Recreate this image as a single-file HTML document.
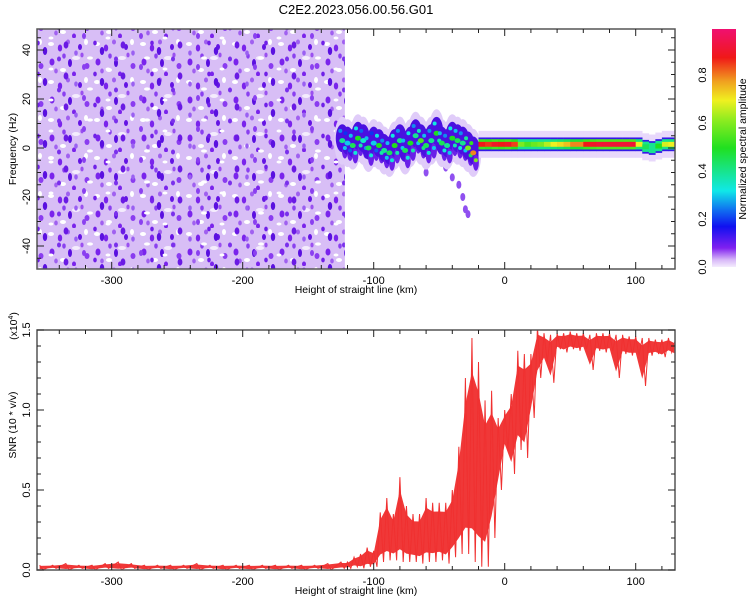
<!DOCTYPE html>
<html><head><meta charset="utf-8"><style>
body{margin:0;background:#fff;}
svg text{font-family:"Liberation Sans","DejaVu Sans",sans-serif;}
</style></head><body>
<svg id="chart" width="750" height="600" viewBox="0 0 750 600" xmlns="http://www.w3.org/2000/svg">
<defs>
<linearGradient id="cbar" x1="0" y1="1" x2="0" y2="0">
<stop offset="0" stop-color="#f4ecfd"/><stop offset="0.03" stop-color="#d8b8f8"/>
<stop offset="0.08" stop-color="#8020f0"/><stop offset="0.17" stop-color="#1010f0"/>
<stop offset="0.24" stop-color="#1070f0"/><stop offset="0.32" stop-color="#10e8e8"/>
<stop offset="0.5" stop-color="#20e020"/><stop offset="0.62" stop-color="#90ec20"/>
<stop offset="0.7" stop-color="#f0f020"/><stop offset="0.78" stop-color="#f0a020"/>
<stop offset="0.88" stop-color="#f01818"/><stop offset="1" stop-color="#f01070"/>
</linearGradient>
<pattern id="speckle" width="46" height="38" patternUnits="userSpaceOnUse">
<rect width="46" height="38" fill="#d8bef6"/>
<ellipse cx="5" cy="6" rx="3" ry="2" fill="#ffffff"/>
<ellipse cx="30" cy="20" rx="4" ry="2" fill="#f4ecfd"/>
<ellipse cx="17" cy="32" rx="3" ry="2" fill="#ffffff"/>
<ellipse cx="40" cy="4" rx="2" ry="3" fill="#ffffff"/>
<ellipse cx="14" cy="10" rx="2.2" ry="3.5" fill="#7a24ec"/>
<ellipse cx="34" cy="9" rx="2" ry="3" fill="#6414e4"/>
<ellipse cx="6" cy="24" rx="2.5" ry="3.5" fill="#7a24ec"/>
<ellipse cx="24" cy="25" rx="2" ry="4" fill="#5a10e0"/>
<ellipse cx="41" cy="28" rx="2.5" ry="3" fill="#8a3cf0"/>
<ellipse cx="28" cy="36" rx="2" ry="2.5" fill="#7a24ec"/>
<ellipse cx="22" cy="4" rx="2" ry="2.5" fill="#a060f0"/>
<ellipse cx="10" cy="33" rx="1.8" ry="2.5" fill="#a060f0"/>
<ellipse cx="36" cy="17" rx="1.6" ry="2.4" fill="#9a50f0"/>
<ellipse cx="18" cy="18" rx="1.8" ry="2.6" fill="#8a40f0"/>
</pattern>
<pattern id="speckle2" width="57" height="31" patternUnits="userSpaceOnUse">
<ellipse cx="9" cy="14" rx="2.4" ry="3.6" fill="#6a1ae4"/>
<ellipse cx="27" cy="5" rx="2" ry="3" fill="#8a40f0"/>
<ellipse cx="45" cy="20" rx="2.2" ry="4" fill="#5a10e0"/>
<ellipse cx="33" cy="27" rx="3" ry="1.6" fill="#ffffff"/>
<ellipse cx="51" cy="7" rx="2.5" ry="1.5" fill="#ffffff"/>
<ellipse cx="19" cy="22" rx="1.8" ry="2.6" fill="#9a60f2"/>
<ellipse cx="2" cy="28" rx="2" ry="2.5" fill="#7a30ec"/>
<ellipse cx="38" cy="12" rx="1.8" ry="2.4" fill="#7020e8"/>
</pattern>
<clipPath id="clipTop"><rect x="37" y="29" width="638" height="240"/></clipPath>
<clipPath id="clipBot"><rect x="37" y="330" width="638" height="240"/></clipPath>
</defs>
<text x="356" y="14" font-size="13" text-anchor="middle">C2E2.2023.056.00.56.G01</text>
<g id="topPanel"></g>
<g id="botPanel"></g>
<g id="cbPanel"></g>
</svg>
<script>
var xTicks=[-300,-200,-100,0,100];
var fTicks=[-40,-20,0,20,40];
var snrTicks=[0.0,0.5,1.0,1.5];
var cbTicks=[0.0,0.2,0.4,0.6,0.8];
var bandKm=[-20,-15,-10,-5,0,5,10,15,20,25,30,35,40,45,50,55,60,65,70,75,80,85,90,95,100,105,110,115,120,125];
var bandAmp=[0.88,0.86,0.9,0.88,0.9,0.85,0.6,0.55,0.58,0.6,0.65,0.7,0.72,0.75,0.8,0.8,0.88,0.9,0.92,0.92,0.92,0.92,0.92,0.92,0.7,0.45,0.4,0.5,0.68,0.7];
var bandFreq=[1.5,1.5,1.5,1.5,1.5,1.5,1.5,1.5,1.5,1.5,1.5,1.5,1.5,1.5,1.5,1.5,1.5,1.5,1.5,1.5,1.5,1.5,1.5,1.5,1.5,0.5,0,0.8,1.5,1.5];
var blobKm=[-124,-120,-116,-112,-108,-104,-100,-96,-92,-88,-84,-80,-76,-72,-68,-64,-60,-56,-52,-48,-44,-40,-36,-32,-28,-24];
var blobFreq=[3,2,1,4,3,0,2,1,-1,-2,1,3,-1,2,5,3,1,3,6,2,1,4,3,2,0,-2];
var blobAmp=[0.4,0.3,0.45,0.5,0.35,0.45,0.3,0.5,0.4,0.45,0.5,0.4,0.45,0.5,0.4,0.55,0.45,0.4,0.5,0.45,0.4,0.5,0.45,0.4,0.6,0.8];
var tailKm=[-60,-45,-40,-35,-32,-30,-28];
var tailFreq=[-10,-8,-12,-15,-20,-25,-27];
var snrKm=[-355,-345,-335,-325,-315,-305,-295,-285,-275,-265,-255,-245,-235,-225,-215,-205,-195,-185,-175,-165,-155,-145,-135,-125,-120,-115,-110,-105,-100,-95,-90,-85,-80,-75,-70,-65,-60,-55,-50,-45,-40,-35,-30,-25,-20,-15,-10,-5,0,5,10,15,20,25,30,35,40,45,50,55,60,65,70,75,80,85,90,95,100,105,110,115,120,125,130];
var snrHi=[0.03,0.03,0.04,0.03,0.03,0.04,0.05,0.04,0.03,0.03,0.03,0.03,0.04,0.03,0.03,0.03,0.03,0.03,0.03,0.03,0.03,0.03,0.04,0.05,0.05,0.08,0.1,0.14,0.12,0.36,0.45,0.35,0.58,0.4,0.35,0.35,0.45,0.42,0.42,0.42,0.5,0.77,1.2,1.45,1.3,1.06,1.12,0.95,1.0,1.1,1.37,1.35,1.35,1.52,1.48,1.47,1.48,1.48,1.49,1.48,1.48,1.47,1.48,1.48,1.48,1.47,1.47,1.46,1.46,1.45,1.45,1.44,1.44,1.45,1.43];
var snrLo=[0.0,0.01,0.0,0.01,0.0,0.01,0.0,0.01,0.0,0.01,0.0,0.01,0.0,0.01,0.0,0.01,0.0,0.01,0.0,0.01,0.0,0.01,0.0,0.01,0.01,0.02,0.01,0.02,0.02,0.05,0.06,0.06,0.05,0.05,0.05,0.04,0.05,0.05,0.06,0.04,0.08,0.1,0.1,0.05,0.02,0.02,0.2,0.5,0.75,0.6,0.75,0.7,0.95,1.2,1.3,1.17,1.38,1.36,1.38,1.37,1.38,1.25,1.37,1.36,1.37,1.2,1.35,1.34,1.34,1.15,1.34,1.35,1.33,1.36,1.34];

function xs(km){return 504.7+1.31*km;}
function ysTop(f){return 148-2.45*f;}
function ysBot(v){return 570-160*v;}
function ysCb(a){return 267-240*a;}
var NS="http://www.w3.org/2000/svg";
function mk(tag,attrs,parent){var e=document.createElementNS(NS,tag);for(var k in attrs)e.setAttribute(k,attrs[k]);parent.appendChild(e);return e;}
function ampColor(a){
 var stops=[[0,[244,236,253]],[0.03,[216,184,248]],[0.08,[128,32,240]],[0.17,[16,16,240]],[0.24,[16,112,240]],[0.32,[16,232,232]],[0.5,[32,224,32]],[0.62,[144,236,32]],[0.7,[240,240,32]],[0.78,[240,160,32]],[0.88,[240,24,24]],[1,[240,16,112]]];
 for(var i=1;i<stops.length;i++){if(a<=stops[i][0]){var t=(a-stops[i-1][0])/(stops[i][0]-stops[i-1][0]);var c=stops[i-1][1].map(function(v,j){return Math.round(v+(stops[i][1][j]-v)*t);});return "rgb("+c.join(",")+")";}}
 return "rgb(240,16,112)";
}
var gTop=document.getElementById('topPanel'),gBot=document.getElementById('botPanel'),gCb=document.getElementById('cbPanel');

var tg=mk('g',{'clip-path':'url(#clipTop)'},gTop);
var sp=mk('rect',{x:37,y:29,width:xs(-122)-37,height:240,fill:'url(#speckle)'},tg);


var sp2=mk('rect',{x:37,y:29,width:xs(-122)-37,height:240,fill:'url(#speckle2)'},tg);


for(var i=0;i<tailKm.length;i++){
 var t=mk('ellipse',{cx:xs(tailKm[i]),cy:ysTop(tailFreq[i]),rx:2.5,ry:4,fill:'#9050f0'},tg);
 
 
}
for(var i=0;i<blobKm.length;i++){
 var h=mk('ellipse',{cx:xs(blobKm[i]),cy:ysTop(blobFreq[i]),rx:8,ry:24,fill:'#e0ccf9'},tg);
 
 
}
for(var i=0;i<blobKm.length;i++){
 var c=mk('ellipse',{cx:xs(blobKm[i]),cy:ysTop(blobFreq[i]+1),rx:6.5,ry:14,fill:'#4a10e0'},tg);
 
 
 var c2=mk('ellipse',{cx:xs(blobKm[i]+2),cy:ysTop(blobFreq[i]-4),rx:3,ry:8,fill:'#6a20e8'},tg);
 
 
}
for(var i=0;i<blobKm.length;i++){
 var b=mk('ellipse',{cx:xs(blobKm[i]),cy:ysTop(blobFreq[i]),rx:3,ry:2.5,fill:ampColor(blobAmp[i])},tg);
 
 
 var b2=mk('ellipse',{cx:xs(blobKm[i]+2),cy:ysTop(blobFreq[i]-3),rx:2,ry:2,fill:ampColor(blobAmp[i]*0.75)},tg);
 
 
 var b3=mk('ellipse',{cx:xs(blobKm[i]-1.5),cy:ysTop(blobFreq[i]+4),rx:2,ry:2,fill:ampColor(blobAmp[i]*0.65)},tg);
 
 
}
var layers=[[5.5,function(a){return '#e8d8fb';}],[2.8,function(a){return '#3418e8';}],[2.1,function(a){return ampColor(Math.max(0.4,a*0.6));}],[1.0,function(a){return ampColor(a);}]];
layers.forEach(function(L){
 for(var i=0;i<bandKm.length;i++){
  var x0=xs(bandKm[i]),x1=xs(bandKm[i]+5.2);
  var r=mk('rect',{x:x0,y:ysTop(bandFreq[i]+L[0]),width:x1-x0,height:2*L[0]*2.45,fill:L[1](bandAmp[i])},tg);
  
  
 }
});
function axes(g,y0,y1,yticks,yscale,minorStep,ymin,ymax,labelFmt){
 mk('rect',{x:37,y:y0,width:638,height:y1-y0,fill:'none',stroke:'#555','stroke-width':1.5},g);
 for(var k=-340;k<=120;k+=20){var major=(k%100===0);var L=major?7:4;
  mk('line',{x1:xs(k),x2:xs(k),y1:y1,y2:y1-L,stroke:'#222'},g);
  mk('line',{x1:xs(k),x2:xs(k),y1:y0,y2:y0+L,stroke:'#222'},g);}
 xTicks.forEach(function(k){var t=mk('text',{x:xs(k),y:y1+15,'font-size':11,'text-anchor':'middle'},g);t.textContent=k;
  
  });
 for(var v=ymin;v<=ymax+1e-9;v+=minorStep){var yy=yscale(v);if(yy<y0||yy>y1)continue;
  mk('line',{x1:37,x2:41,y1:yy,y2:yy,stroke:'#222'},g);mk('line',{x1:675,x2:671,y1:yy,y2:yy,stroke:'#222'},g);}
 yticks.forEach(function(v){var yy=yscale(v);
  mk('line',{x1:37,x2:44,y1:yy,y2:yy,stroke:'#222'},g);mk('line',{x1:675,x2:668,y1:yy,y2:yy,stroke:'#222'},g);
  var t=mk('text',{x:30,y:yy,'font-size':11,'text-anchor':'middle',transform:'rotate(-90 30 '+yy+')'},g);t.textContent=labelFmt(v);
  
  });
 var xl=mk('text',{x:356,y:y1+24,'font-size':10.5,'text-anchor':'middle'},g);xl.textContent='Height of straight line (km)';
 
 
}
axes(gTop,29,269,fTicks,ysTop,5,-45,45,function(v){return v;});
var yl=mk('text',{x:16,y:149,'font-size':10.5,'text-anchor':'middle',transform:'rotate(-90 16 149)'},gTop);yl.textContent='Frequency (Hz)';



var bg=mk('g',{'clip-path':'url(#clipBot)'},gBot);
var pts=[],hi=[],lo=[];
for(var i=0;i<snrKm.length;i++){
 pts.push(xs(snrKm[i])+','+ysBot(snrHi[i]));
 pts.push(xs(snrKm[i]+2.5)+','+ysBot(snrLo[i]));
 hi.push(xs(snrKm[i])+','+ysBot(snrHi[i]*0.85+snrLo[i]*0.15));
 lo.unshift(xs(snrKm[i])+','+ysBot(snrLo[i]*0.85+snrHi[i]*0.15));
}
var area=mk('polygon',{points:hi.concat(lo).join(' '),fill:'#f03838'},bg);


var line=mk('polyline',{points:pts.join(' '),fill:'none',stroke:'#f03030','stroke-width':1},bg);


axes(gBot,330,570,snrTicks,ysBot,0.1,0,1.5,function(v){return v.toFixed(1);});
var yl2=mk('text',{x:16,y:425,'font-size':10.5,'text-anchor':'middle',transform:'rotate(-90 16 425)'},gBot);yl2.textContent='SNR (10 * v/v)';


var sc=mk('text',{x:17,y:326,'font-size':10.5,'text-anchor':'middle',transform:'rotate(-90 17 326)'},gBot);
var s1=mk('tspan',{},sc);s1.textContent='(x10';
var s2=mk('tspan',{dy:'-4','font-size':'7'},sc);s2.textContent='4';
var s3=mk('tspan',{dy:'4'},sc);s3.textContent=')';



var cr=mk('rect',{x:712,y:29,width:24,height:238,fill:'url(#cbar)'},gCb);


cbTicks.forEach(function(v){var yy=ysCb(v);var t=mk('text',{x:706,y:yy,'font-size':11,'text-anchor':'middle',transform:'rotate(-90 706 '+yy+')'},gCb);t.textContent=v.toFixed(1);
 
 });
var cl=mk('text',{x:746,y:149,'font-size':10.5,'text-anchor':'middle',transform:'rotate(-90 746 149)'},gCb);cl.textContent='Normalized spectral amplitude';


</script>
</body></html>
